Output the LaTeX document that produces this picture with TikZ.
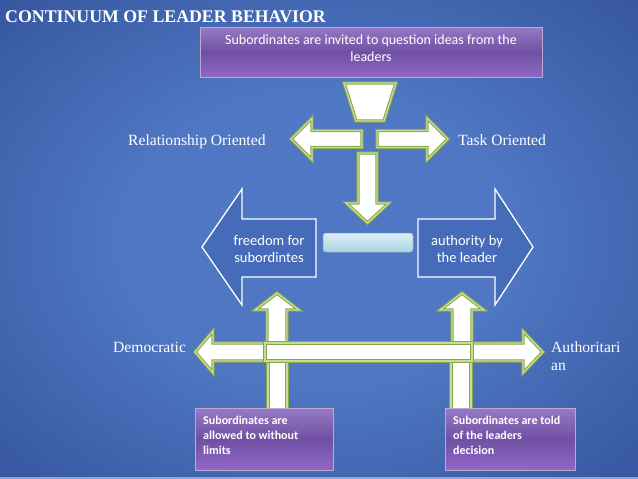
\documentclass[tikz,border=0pt]{standalone}
\usepackage{fontspec}
\setmainfont{Liberation Serif}
\newfontfamily\calib{Carlito}
\definecolor{bgin}{HTML}{5077C3}
\definecolor{bgmid}{HTML}{3757A0}
\definecolor{bgedge}{HTML}{213B7C}
\definecolor{bgout}{HTML}{152562}
\definecolor{strip}{HTML}{8AA6DC}
\definecolor{gdark}{HTML}{86A846}
\definecolor{glight}{HTML}{C6DB9C}
\definecolor{bigfill}{HTML}{466BB8}
\definecolor{ptop}{HTML}{967AC4}
\definecolor{pmid}{HTML}{7050A3}
\definecolor{pbot}{HTML}{9068C8}
\definecolor{pedge}{HTML}{B8ABD0}
\definecolor{bartop}{HTML}{DCEFF6}
\definecolor{barbot}{HTML}{A8D2E2}
\pgfdeclareradialshading{slidebg}{\pgfpoint{0bp}{0bp}}{color(0bp)=(bgin); color(15bp)=(bgin); color(35bp)=(bgmid); color(50bp)=(bgedge); color(71bp)=(bgout)}

\begin{document}
\begin{tikzpicture}[x=1pt,y=-1pt,
  garrow/.style={fill=white,draw=gdark,line width=3.4pt,line join=miter,postaction={draw=glight,line width=1.4pt}},
  barrow/.style={fill=bigfill,draw=white,line width=1.3pt,line join=miter},
  pbox/.style={draw=pedge,line width=0.8pt,top color=ptop,bottom color=pbot,middle color=pmid,inner sep=0pt},
  midbar/.style={draw=barbot!80!black,line width=0.5pt,rounded corners=2.5pt,top color=bartop,bottom color=barbot,inner sep=0pt},
  slab/.style={text=white,font=\fontsize{15.6}{18}\selectfont,inner sep=0pt,anchor=base west},
  btxt/.style={text=white,font=\calib\fontsize{14.5}{16.5}\selectfont,align=center,inner sep=0pt},
  ptxt/.style={text=white,font=\calib\bfseries\fontsize{12}{15}\selectfont,align=left,inner sep=0pt,anchor=west}]
  \useasboundingbox (0,0) rectangle (638,479);
  \shade[shading=slidebg] (0,0) rectangle (638,479);
  \fill[strip] (0,477) rectangle (638,479);

  \node[anchor=base west,text=white,inner sep=0pt,font=\bfseries\fontsize{17.8}{20}\selectfont] (title) at (5,22) {CONTINUUM OF LEADER BEHAVIOR};

  % ===== top box and cross =====
  \node[pbox,minimum width=342pt,minimum height=50pt] (askbox) at (371,52) {};
  \node[text=white,font=\calib\fontsize{14}{17}\selectfont,align=center,inner sep=0pt] (asktxt) at (371,48) {Subordinates are invited to question ideas from the\\leaders};

  \draw[garrow] (344,83) -- (396,83) -- (384,121) -- (356,121) -- cycle;
  \draw[garrow] (362,130.5) -- (312,130.5) -- (312,118) -- (291,139) -- (312,160) -- (312,147.5) -- (362,147.5) -- cycle;
  \draw[garrow] (377,130.5) -- (427,130.5) -- (427,118) -- (448,139) -- (427,160) -- (427,147.5) -- (377,147.5) -- cycle;
  \draw[garrow] (358,153) -- (377,153) -- (377,203) -- (389,203) -- (367.5,223) -- (346,203) -- (358,203) -- cycle;

  \node[slab] (reltxt) at (128,145) {Relationship Oriented};
  \node[slab] (tasktxt) at (458,145) {Task Oriented};

  % ===== big arrows =====
  \draw[barrow] (316,219) -- (242,219) -- (242,189) -- (202,247) -- (242,305) -- (242,277) -- (316,277) -- cycle;
  \draw[barrow] (418,219) -- (495,219) -- (495,189) -- (533,247) -- (495,305) -- (495,277) -- (418,277) -- cycle;
  \node[btxt] (freetxt) at (269,249) {freedom for\\subordintes};
  \node[btxt] (authtxt) at (467,249) {authority by\\the leader};
  \node[midbar,minimum width=90pt,minimum height=19pt] (mid) at (368,242.5) {};

  % ===== bottom cross =====
  \draw[garrow] (265,343) -- (213,343) -- (213,331) -- (195,352) -- (213,373) -- (213,361) -- (265,361) -- cycle;
  \draw[garrow] (472,343) -- (523,343) -- (523,331) -- (543,352) -- (523,373) -- (523,361) -- (472,361) -- cycle;
  \draw[garrow] (267,343) -- (267,310) -- (255,310) -- (277,293) -- (299,310) -- (287,310) -- (287,343) -- cycle;
  \draw[garrow] (452,343) -- (452,310) -- (440,310) -- (462,293) -- (484,310) -- (472,310) -- (472,343) -- cycle;
  \draw[garrow] (268,361) rectangle (287,410);
  \draw[garrow] (451,361) rectangle (471,410);
  \draw[garrow] (265,343) rectangle (472,361);

  \node[slab] (demtxt) at (113,352) {Democratic};
  \node[slab,align=left,anchor=north west] (autxt) at (551,341) {Authoritari\\an};

  % ===== bottom boxes =====
  \node[pbox,minimum width=138pt,minimum height=62pt] (allowbox) at (264,439) {};
  \node[ptxt] (allowtxt) at (203,435) {Subordinates are\\allowed to without\\limits};
  \node[pbox,minimum width=130pt,minimum height=62pt] (toldbox) at (510,439) {};
  \node[ptxt] (toldtxt) at (453,435) {Subordinates are told\\of the leaders\\decision};
\end{tikzpicture}
\end{document}
